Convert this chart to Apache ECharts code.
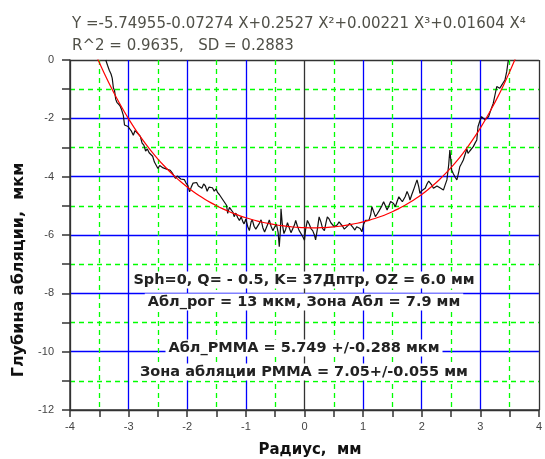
<!DOCTYPE html>
<html>
<head>
<meta charset="utf-8">
<script src="https://cdn.jsdelivr.net/npm/echarts@6/dist/echarts.min.js"></script>
<style>html,body{margin:0;padding:0;background:#fff}#c{width:545px;height:459px}</style>
</head>
<body>
<div id="c"></div>
<script>
// measured ablation profile: [radius mm, depth um]
const measured = [
[-3.39,0],[-3.36,-0.18],[-3.33,-0.35],[-3.30,-0.48],[-3.28,-0.62],[-3.26,-0.95],[-3.24,-1.05],[-3.22,-1.35],[-3.20,-1.45],[-3.17,-1.40],
[-3.15,-1.56],[-3.12,-1.70],[-3.09,-1.90],[-3.07,-2.23],[-3.04,-2.20],[-3.01,-2.28],[-2.98,-2.30],[-2.95,-2.45],[-2.92,-2.58],[-2.89,-2.42],
[-2.86,-2.48],[-2.83,-2.55],[-2.80,-2.62],[-2.77,-2.85],[-2.74,-2.92],[-2.71,-3.12],[-2.68,-3.05],[-2.65,-3.18],[-2.62,-3.12],[-2.59,-3.30],
[-2.56,-3.50],[-2.53,-3.45],[-2.50,-3.72],[-2.47,-3.62],[-2.44,-3.58],[-2.41,-3.70],[-2.38,-3.66],[-2.35,-3.74],[-2.32,-3.80],[-2.29,-3.78],
[-2.26,-3.86],[-2.23,-3.92],[-2.20,-4.06],[-2.17,-3.98],[-2.14,-4.02],[-2.11,-4.08],[-2.08,-4.12],[-2.05,-4.10],[-2.02,-4.22],[-1.99,-4.30],
[-1.96,-4.52],[-1.93,-4.35],[-1.90,-4.22],[-1.87,-4.26],[-1.84,-4.20],[-1.81,-4.32],[-1.78,-4.28],[-1.75,-4.40],[-1.72,-4.25],[-1.69,-4.32],
[-1.66,-4.50],[-1.63,-4.36],[-1.60,-4.42],[-1.57,-4.38],[-1.54,-4.50],[-1.51,-4.42],[-1.48,-4.55],[-1.45,-4.62],[-1.42,-4.58],[-1.39,-4.80],
[-1.36,-4.86],[-1.33,-4.98],[-1.31,-5.26],[-1.28,-5.05],[-1.25,-5.14],[-1.22,-5.22],[-1.20,-5.37],[-1.17,-5.25],[-1.14,-5.40],[-1.11,-5.50],
[-1.08,-5.38],[-1.05,-5.55],[-1.03,-5.62],[-1.00,-5.45],[-0.97,-5.70],[-0.94,-5.85],[-0.91,-5.55],[-0.89,-5.48],[-0.86,-5.70],[-0.83,-5.80],
[-0.80,-5.85],[-0.77,-5.60],[-0.74,-5.48],[-0.71,-5.75],[-0.68,-5.90],[-0.65,-5.88],[-0.62,-5.60],[-0.60,-5.48],[-0.57,-5.70],[-0.54,-5.85],
[-0.51,-5.80],[-0.48,-5.62],[-0.45,-5.90],[-0.43,-6.40],[-0.41,-5.80],[-0.40,-5.10],[-0.38,-5.60],[-0.35,-5.95],[-0.32,-5.80],[-0.29,-5.58],
[-0.26,-5.75],[-0.23,-5.92],[-0.20,-5.95],[-0.17,-5.65],[-0.15,-5.50],[-0.12,-5.70],[-0.09,-5.85],[-0.06,-5.90],[-0.03,-6.05],[0.00,-6.18],
[0.02,-5.80],[0.05,-5.50],[0.08,-5.62],[0.11,-5.78],[0.14,-5.85],[0.17,-6.00],[0.19,-6.17],[0.22,-5.80],[0.25,-5.38],[0.28,-5.55],
[0.31,-5.78],[0.34,-5.85],[0.37,-5.55],[0.39,-5.38],[0.42,-5.45],[0.45,-5.58],[0.48,-5.62],[0.51,-5.72],[0.53,-5.78],[0.56,-5.65],
[0.59,-5.55],[0.62,-5.56],[0.65,-5.70],[0.68,-5.80],[0.71,-5.82],[0.74,-5.68],[0.77,-5.60],[0.80,-5.65],[0.83,-5.75],[0.86,-5.83],
[0.89,-5.72],[0.92,-5.66],[0.95,-5.78],[0.98,-5.89],[1.01,-5.62],[1.04,-5.50],[1.07,-5.55],[1.10,-5.49],[1.13,-5.30],[1.15,-5.03],
[1.18,-5.20],[1.21,-5.37],[1.24,-5.28],[1.27,-5.18],[1.29,-5.14],[1.32,-5.00],[1.35,-4.86],[1.38,-5.00],[1.41,-5.14],[1.44,-5.00],
[1.47,-4.85],[1.49,-4.80],[1.52,-4.92],[1.55,-5.03],[1.58,-4.85],[1.61,-4.69],[1.64,-4.78],[1.67,-4.86],[1.69,-4.86],[1.72,-4.68],
[1.75,-4.51],[1.78,-4.65],[1.80,-4.80],[1.83,-4.62],[1.86,-4.46],[1.89,-4.28],[1.92,-4.11],[1.95,-4.35],[1.97,-4.57],[2.00,-4.48],
[2.03,-4.44],[2.06,-4.40],[2.09,-4.25],[2.12,-4.15],[2.14,-4.11],[2.17,-4.28],[2.20,-4.40],[2.23,-4.35],[2.26,-4.32],[2.28,-4.29],
[2.31,-4.38],[2.34,-4.42],[2.37,-4.46],[2.40,-4.28],[2.43,-4.11],[2.46,-3.60],[2.48,-3.09],[2.50,-3.50],[2.51,-3.77],[2.54,-3.90],
[2.57,-4.02],[2.60,-4.11],[2.63,-3.85],[2.65,-3.66],[2.68,-3.55],[2.71,-3.43],[2.74,-3.38],[2.77,-3.05],[2.79,-3.20],[2.82,-3.12],
[2.85,-3.09],[2.88,-2.97],[2.91,-2.85],[2.94,-2.74],[2.96,-2.29],[2.99,-2.10],[3.02,-1.94],[3.05,-2.00],[3.08,-2.05],[3.11,-2.11],
[3.14,-1.95],[3.16,-1.83],[3.19,-1.65],[3.22,-1.49],[3.25,-1.20],[3.28,-0.91],[3.31,-0.95],[3.33,-0.97],[3.36,-0.88],[3.39,-0.78],
[3.42,-0.69],[3.45,-0.40],[3.47,-0.11],[3.48,0.0]
];
// polynomial fit curve read at 0.1 mm steps
const fitX = [-3.6,-3.5,-3.4,-3.3,-3.2,-3.1,-3.0,-2.9,-2.8,-2.7,-2.6,-2.5,-2.4,-2.3,-2.2,-2.1,-2.0,-1.9,-1.8,-1.7,-1.6,-1.5,-1.4,-1.3,-1.2,-1.1,-1.0,-0.9,-0.8,-0.7,-0.6,-0.5,-0.4,-0.3,-0.2,-0.1,0,0.1,0.2,0.3,0.4,0.5,0.6,0.7,0.8,0.9,1.0,1.1,1.2,1.3,1.4,1.5,1.6,1.7,1.8,1.9,2.0,2.1,2.2,2.3,2.4,2.5,2.6,2.7,2.8,2.9,3.0,3.1,3.2,3.3,3.4,3.5,3.6];
const fitY = [0.378,-0.087,-0.524,-0.935,-1.320,-1.680,-2.017,-2.333,-2.627,-2.902,-3.158,-3.396,-3.618,-3.824,-4.014,-4.191,-4.354,-4.505,-4.644,-4.772,-4.890,-4.998,-5.097,-5.187,-5.269,-5.343,-5.410,-5.470,-5.524,-5.572,-5.613,-5.649,-5.680,-5.705,-5.725,-5.740,-5.750,-5.754,-5.754,-5.748,-5.738,-5.721,-5.700,-5.672,-5.638,-5.598,-5.551,-5.497,-5.436,-5.366,-5.288,-5.201,-5.105,-4.998,-4.880,-4.751,-4.610,-4.455,-4.287,-4.104,-3.906,-3.691,-3.459,-3.208,-2.938,-2.647,-2.335,-1.999,-1.640,-1.256,-0.845,-0.407,0.061];
const xTicks = {min:-4, max:4, step:1};
const yTicks = {min:-12, max:0, step:2};
const equationText = 'Y =-5.74955-0.07274 X+0.2527 X\u00B2+0.00221 X\u00B3+0.01604 X\u2074';
const statsText = 'R^2 = 0.9635,   SD = 0.2883';
const noteLines = [
  'Sph=0, Q= - 0.5, K= 37Дптр, OZ = 6.0 мм',
  'Абл_рог = 13 мкм, Зона Абл = 7.9 мм',
  'Абл_PMMA = 5.749 +/-0.288 мкм',
  'Зона абляции PMMA = 7.05+/-0.055 мм'
];
const xName = 'Радиус,  мм';
const yName = 'Глубина абляции,  мкм';

const chart = echarts.init(document.getElementById('c'), null, {renderer:'canvas'});
const B = '#0000ff', K = '#333333';
const noteY = [280, 302, 348, 372];
const noteFont = 'bold 14.5px "DejaVu Sans"';
chart.setOption({
  animation: false,
  backgroundColor: '#fff',
  grid: {left: 70, right: 4, top: 60, bottom: 49, containLabel: false},
  xAxis: {
    type: 'value', min: xTicks.min, max: xTicks.max, interval: xTicks.step,
    axisLine: {show: true, onZero: false, lineStyle: {color: K, width: 1.5}},
    axisTick: {show: true, length: 7, lineStyle: {color: K, width: 1.5}},
    minorTick: {show: true, splitNumber: 2, length: 7, lineStyle: {color: K, width: 1.5}},
    axisLabel: {color: '#444', fontSize: 11, fontFamily: 'Liberation Sans', margin: 11},
    splitLine: {show: true, lineStyle: {color: [K, B, B, B, K, B, B, B, K], width: 1.3}},
    minorSplitLine: {show: true, lineStyle: {color: '#00ff00', width: 1.3, type: [5, 4]}}
  },
  yAxis: {
    type: 'value', min: yTicks.min, max: yTicks.max, interval: yTicks.step,
    axisLine: {show: true, onZero: false, lineStyle: {color: K, width: 1.5}},
    axisTick: {show: true, length: 8, lineStyle: {color: K, width: 1.5}},
    minorTick: {show: true, splitNumber: 2, length: 8, lineStyle: {color: K, width: 1.5}},
    axisLabel: {color: '#444', fontSize: 11, fontFamily: 'Liberation Sans', margin: 16},
    splitLine: {show: true, lineStyle: {color: [K, B, B, B, B, B, K], width: 1.3}},
    minorSplitLine: {show: true, lineStyle: {color: '#00ff00', width: 1.3, type: [5, 4]}}
  },
  series: [
    {type: 'line', data: measured, showSymbol: false, symbol: 'none', clip: true,
     lineStyle: {color: '#111', width: 1.2}, z: 3},
    {type: 'line', data: fitX.map((x, i) => [x, fitY[i]]), showSymbol: false, symbol: 'none', clip: true,
     smooth: 0.3, lineStyle: {color: '#ff0000', width: 1.2}, z: 4}
  ],
  graphic: [
    {type: 'text', x: 72, y: 24, style: {text: equationText, fill: '#505048', font: '15px "DejaVu Sans"', textVerticalAlign: 'middle'}},
    {type: 'text', x: 72, y: 46, style: {text: statsText, fill: '#505048', font: '15px "DejaVu Sans"', textVerticalAlign: 'middle'}},
    {type: 'text', x: 19, y: 270, rotation: Math.PI / 2,
     style: {text: yName, fill: '#111', font: 'bold 16px "DejaVu Sans"', textAlign: 'center', textVerticalAlign: 'middle'}},
    {type: 'text', x: 310, y: 450,
     style: {text: xName, fill: '#111', font: 'bold 15px "DejaVu Sans"', textAlign: 'center', textVerticalAlign: 'middle'}},
  ].concat(noteLines.map((t, i) => ({
    type: 'text', x: 304, y: noteY[i], z: 10,
    style: {text: t, fill: '#222', font: noteFont, textAlign: 'center', textVerticalAlign: 'middle',
            backgroundColor: '#fff', padding: [1, 3]}
  })))
});
</script>
</body>
</html>
